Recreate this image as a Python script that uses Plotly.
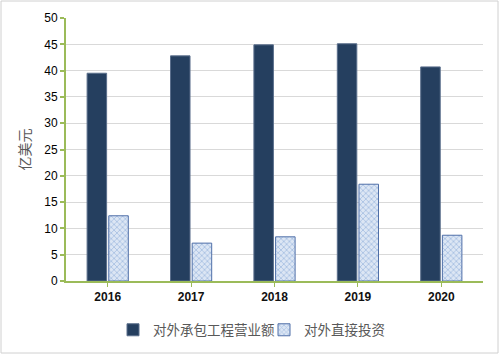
import plotly.graph_objects as go

years = ["2016", "2017", "2018", "2019", "2020"]
contract_revenue = [39.5, 42.8, 44.9, 45.1, 40.7]
direct_investment = [12.4, 7.2, 8.4, 18.4, 8.7]
series_names = ["对外承包工程营业额", "对外直接投资"]
y_title = "亿美元"

green = "#9BBB59"
fig = go.Figure()
fig.add_bar(x=years, y=contract_revenue, name=series_names[0],
            marker=dict(color="#253F5F", line=dict(color="#5B6F8C", width=1)))
fig.add_bar(x=years, y=direct_investment, name=series_names[1],
            marker=dict(color="#DCE6F4", line=dict(color="#4F6FA8", width=1),
                        pattern=dict(shape="x", fgcolor="#7A9FD4", bgcolor="#DCE6F4",
                                     size=4, solidity=0.4)))

W, H = 500, 355
ml, mr, mt, mb = 66, 17, 18, 74
pw, ph = W - ml - mr, H - mt - mb

def px(x):
    return (x - ml) / pw

def py(y):
    return (H - mb - y) / ph

fig.update_layout(
    width=W, height=H,
    margin=dict(l=ml, r=mr, t=mt, b=mb, autoexpand=False),
    paper_bgcolor="white", plot_bgcolor="white",
    barmode="group", bargap=0.48, bargroupgap=0.1,
    font=dict(family="Liberation Sans, Arial, Noto Sans CJK SC", size=11, color="#222"),
    showlegend=True,
    legend=dict(orientation="h", x=px(113), xanchor="left", y=py(330), yanchor="middle",
                font=dict(family="Noto Sans CJK SC", size=13.5, color="#595959"),
                itemwidth=30, tracegroupgap=0, bgcolor="rgba(0,0,0,0)",
                entrywidth=106, entrywidthmode="pixels"),
    xaxis=dict(showline=True, linecolor=green, linewidth=1.5, ticks="outside",
               tickcolor=green, ticklen=4, tickwidth=1,
               tickfont=dict(family="Liberation Sans", size=12, color="#111", weight="bold"),
               showgrid=False),
    yaxis=dict(range=[0, 50], dtick=5, showline=True, linecolor=green, linewidth=2,
               ticks="outside", tickcolor=green, ticklen=4, tickwidth=1.5,
               gridcolor="#D9D9D9", gridwidth=1, zeroline=False,
               tickfont=dict(family="Liberation Sans", size=12, color="#000"),
               title=dict(text=y_title, standoff=10,
                          font=dict(family="Noto Sans CJK SC", size=14, color="#595959"))),
    shapes=[dict(type="rect", xref="paper", yref="paper",
                 x0=px(1), x1=px(498), y0=py(353), y1=py(1),
                 line=dict(color="#D0D0D0", width=1), layer="below")],
)

fig.write_html("out.html")
